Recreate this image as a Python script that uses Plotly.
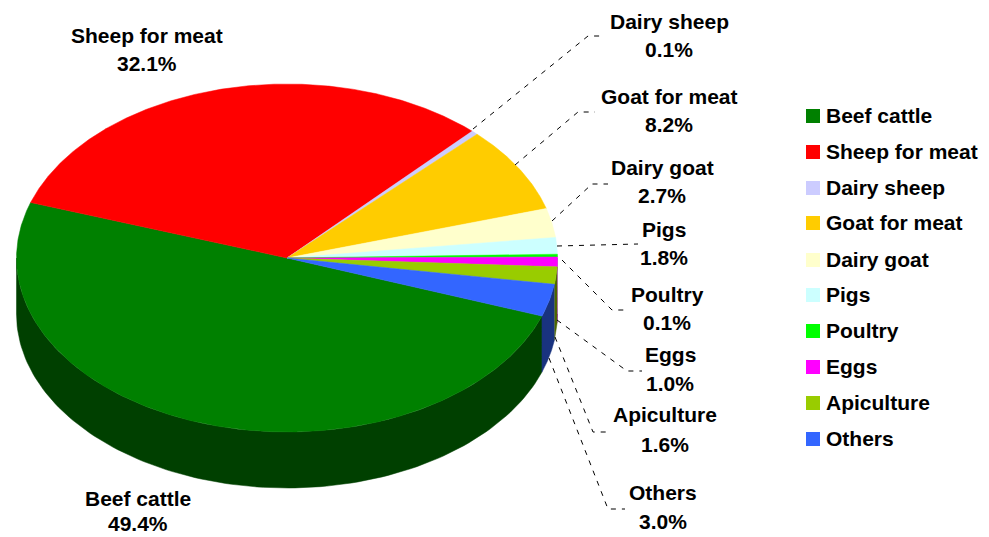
import numpy as np
import plotly.graph_objects as go

categories = ["Beef cattle", "Sheep for meat", "Dairy sheep", "Goat for meat", "Dairy goat",
              "Pigs", "Poultry", "Eggs", "Apiculture", "Others"]
shares = [49.4, 32.1, 0.1, 8.2, 2.7, 1.8, 0.1, 1.0, 1.6, 3.0]
# drawn width of the slices (thin labels round to 0.1)
drawn_shares = [49.7, 31.8, 0.4, 8.0, 2.7, 1.5, 0.3, 0.9, 1.6, 3.0]
colors = ["#008000", "#FF0000", "#CCCCFF", "#FFCC00", "#FFFFCC",
          "#CCFFFF", "#00FF00", "#FF00FF", "#99CC00", "#3366FF"]

# layout of the tilted disc
CX, CY, RX, RY, DEPTH, START = 287, 258, 270.5, 174, 56, 19.5

label_x = [138, 147, 669, 669, 662, 664, 667, 670, 665, 663]
label_y1 = [498, 35, 21, 96, 167, 229, 294, 354, 414, 492]
label_y2 = [523, 63, 49, 124, 195, 257, 322, 383, 444, 521]

legend_marker_x = 813
legend_text_x = 823.5
legend_y = [116, 152, 188, 223, 260, 295, 331, 367, 403, 439]

leaders = {
    "Dairy sheep": [(473, 129), (588, 36), (603, 36)],
    "Goat for meat": [(515, 165), (578, 112), (595, 112)],
    "Dairy goat": [(552, 221), (592, 184), (608, 184)],
    "Pigs": [(557, 246), (638, 244)],
    "Poultry": [(562, 260), (612, 310), (627, 310)],
    "Eggs": [(557, 320), (627, 371), (642, 371)],
    "Apiculture": [(555, 337), (593, 432), (608, 432)],
    "Others": [(549, 358), (608, 509), (625, 509)],
}

FONT = dict(family="Liberation Sans", size=21, color="#000000", weight="bold")


def darken(hex_color):
    r, g, b = (int(hex_color[i:i + 2], 16) for i in (1, 3, 5))
    return f"rgb({r // 2},{g // 2},{b // 2})"


fig = go.Figure()
sweeps = np.array(drawn_shares) / sum(drawn_shares) * 360
ends = START + np.cumsum(sweeps)
starts = ends - sweeps

# side walls (only the part of the rim that faces the viewer: 0..180 degrees)
for name, col, a, b in zip(categories, colors, starts, ends):
    for lo, hi in ((a, b), (a - 360, b - 360)):
        l, h = max(lo, 0), min(hi, 180)
        if h <= l:
            continue
        t = np.radians(np.linspace(l, h, 120))
        x = CX + RX * np.cos(t)
        y = CY + RY * np.sin(t)
        fig.add_trace(go.Scatter(
            x=np.r_[x, x[::-1]], y=np.r_[y, y[::-1] + DEPTH], mode="lines", fill="toself",
            fillcolor=darken(col), line=dict(color=darken(col), width=0.5),
            hoverinfo="skip", showlegend=False))

# top faces
for name, col, a, b in zip(categories, colors, starts, ends):
    t = np.radians(np.linspace(a, b, max(int(b - a) * 3, 8)))
    fig.add_trace(go.Scatter(
        x=np.r_[CX, CX + RX * np.cos(t), CX], y=np.r_[CY, CY + RY * np.sin(t), CY],
        mode="lines", fill="toself", fillcolor=col, line=dict(color=col, width=0.5),
        name=name, hoverinfo="name", showlegend=False))

# leader lines
for pts in leaders.values():
    fig.add_trace(go.Scatter(
        x=[p[0] for p in pts], y=[p[1] for p in pts], mode="lines",
        line=dict(color="#000000", width=1, dash="5px,6px"), hoverinfo="skip", showlegend=False))

# legend: swatches and names
fig.add_trace(go.Scatter(
    x=[legend_marker_x] * len(categories), y=legend_y, mode="markers", text=categories,
    hoverinfo="text", showlegend=False,
    marker=dict(symbol="square", size=14, color=colors, line=dict(width=0))))
for name, y in zip(categories, legend_y):
    fig.add_annotation(x=legend_text_x, y=y - 1, text=name, showarrow=False, font=FONT,
                       xanchor="left", yanchor="middle")

# slice labels
for name, share, x, y1, y2 in zip(categories, shares, label_x, label_y1, label_y2):
    fig.add_annotation(x=x, y=y1, text=name, showarrow=False, font=FONT, xanchor="center", yanchor="middle")
    fig.add_annotation(x=x, y=y2, text=f"{share:.1f}%", showarrow=False, font=FONT, xanchor="center", yanchor="middle")

fig.update_layout(
    width=989, height=537, margin=dict(l=0, r=0, t=0, b=0), showlegend=False,
    paper_bgcolor="#FFFFFF", plot_bgcolor="#FFFFFF",
    xaxis=dict(range=[0, 989], visible=False, fixedrange=True),
    yaxis=dict(range=[537, 0], visible=False, fixedrange=True),
)
fig.write_html("out.html", config=dict(displayModeBar=False),
               post_script="document.body.style.margin='0';document.body.style.overflow='hidden';")
